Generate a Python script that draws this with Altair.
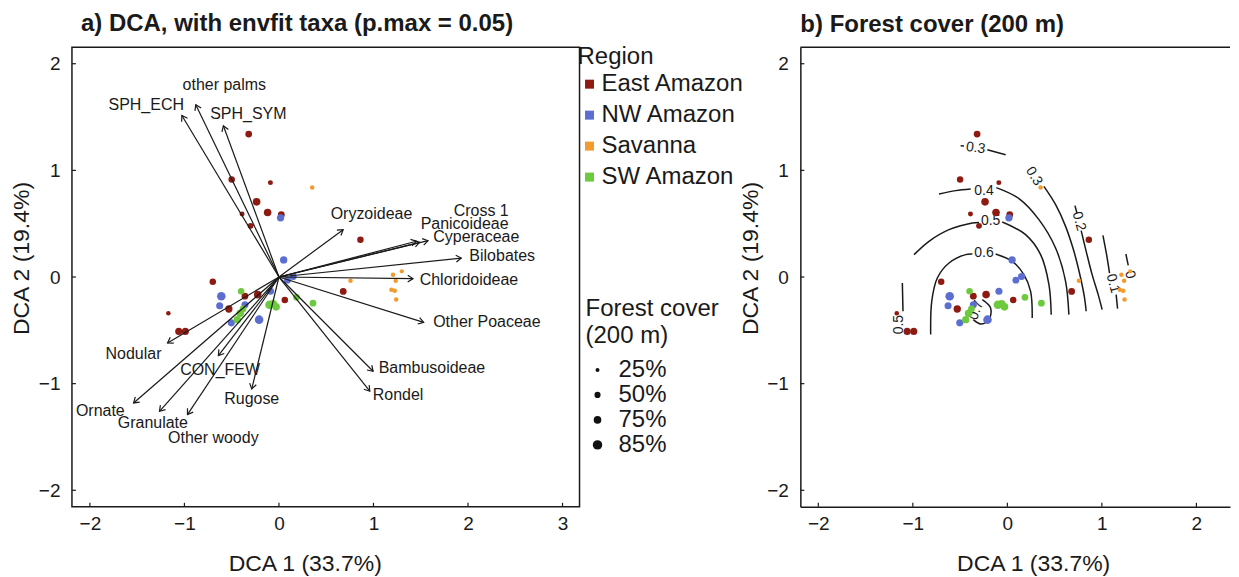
import math
import altair as alt
import pandas as pd

FONT = "Liberation Sans"

# ---------------- sites (DCA scores) ----------------
site_x = [-0.32, -0.50, -0.09, -0.236, -0.39, -0.12, 0.025, -0.30, 0.862, -0.70, 0.68, -0.36, -0.225, -0.53, 0.062, -1.17, -1.06, -0.99,
          0.017, 0.05, 0.15, 0.09, -0.089, -0.61, -0.627, -0.36, -0.504, -0.21,
          0.352, 0.757, 1.207, 1.30, 1.235, 1.19, 1.225, 1.24,
          -0.40, 0.186, 0.36, -0.10, -0.03, -0.06, -0.41, -0.44, -0.38]
site_y = [1.34, 0.915, 0.885, 0.705, 0.59, 0.605, 0.585, 0.48, 0.35, -0.045, -0.135, -0.18, -0.165, -0.30, -0.215, -0.34, -0.51, -0.51,
          0.555, 0.16, 0.005, -0.03, -0.134, -0.18, -0.27, -0.26, -0.43, -0.40,
          0.84, -0.035, 0.022, 0.053, -0.034, -0.12, -0.128, -0.21,
          -0.134, -0.19, -0.245, -0.26, -0.28, -0.25, -0.34, -0.40, -0.30]
site_region = (["East Amazon"] * 18 + ["NW Amazon"] * 10 + ["Savanna"] * 8 + ["SW Amazon"] * 9)
site_cover = [60, 55, 35, 75, 35, 75, 60, 45, 55, 55, 60, 60, 75, 70, 55, 30, 65, 65,
              70, 70, 65, 60, 65, 80, 65, 65, 65, 80,
              30, 30, 30, 28, 30, 30, 30, 30,
              55, 60, 60, 80, 75, 70, 75, 70, 60]

regions = ["East Amazon", "NW Amazon", "Savanna", "SW Amazon"]
region_colors = ["#8E1B12", "#5C6FD1", "#F29B2E", "#6DCA3F"]

cover_breaks = [25, 50, 75, 85]
cover_dot_area = [16, 38, 58, 90]

# ---------------- envfit arrows ----------------
taxa = ["SPH_ECH", "other palms", "SPH_SYM", "Oryzoideae", "Cross 1", "Panicoideae", "Cyperaceae", "Bilobates",
        "Chloridoideae", "Other Poaceae", "Bambusoideae", "Rondel", "Rugose", "CON_FEW", "Nodular", "Ornate",
        "Granulate", "Other woody"]
arrow_x = [-1.027, -0.88, -0.588, 0.679, 1.454, 1.489, 1.577, 1.929, 1.418, 1.531, 0.996, 0.961, -0.288, -0.641,
           -1.179, -1.538, -1.264, -0.968]
arrow_y = [1.515, 1.616, 1.419, 0.444, 0.335, 0.325, 0.341, 0.178, -0.015, -0.425, -0.884, -1.071, -1.05, -0.737,
           -0.618, -1.181, -1.259, -1.29]
label_x = [-1.404, -0.578, -0.324, 0.979, 2.14, 1.964, 2.088, 2.362, 2.01, 2.20, 1.619, 1.26, -0.288, -0.623,
           -1.539, -1.89, -1.334, -0.694]
label_y = [1.616, 1.797, 1.528, 0.594, 0.622, 0.497, 0.372, 0.20, -0.024, -0.425, -0.853, -1.102, -1.143, -0.868,
           -0.722, -1.252, -1.368, -1.509]

# ---------------- ordisurf contours (panel b) ----------------
contour_seg = (["07"] * 5 + ["06a"] * 6 + ["06b"] * 5 + ["05a"] * 5 + ["05b"] * 5 + ["04a"] * 3 + ["04b"] * 6 +
               ["03ta"] * 2 + ["03tb"] * 2 + ["03rb"] * 7 + ["02a"] * 2 + ["02b"] * 5 + ["01a"] * 3 + ["01b"] * 2 +
               ["00a"] * 2 + ["05la"] * 2)
contour_x = [-0.265, -0.177, -0.195, -0.282, -0.36,
             -0.811, -0.80, -0.741, -0.617, -0.441, -0.37,
             -0.124, 0.052, 0.175, 0.246, 0.263,
             -0.987, -0.829, -0.617, -0.371, -0.30,
             -0.054, 0.193, 0.352, 0.44, 0.464,
             -0.723, -0.547, -0.388,
             -0.117, 0.123, 0.334, 0.51, 0.616, 0.651,
             -0.494, -0.459,
             -0.212, -0.018,
             0.387, 0.511, 0.616, 0.704, 0.775, 0.817, 0.834,
             0.715, 0.736,
             0.781, 0.834, 0.897, 0.961, 1.003,
             1.011, 1.05, 1.081,
             1.151, 1.166,
             1.254, 1.279,
             -1.111, -1.104]
contour_y = [-0.212, -0.29, -0.40, -0.44, -0.40,
             -0.54, -0.228, -0.009, 0.131, 0.21, 0.215,
             0.216, 0.147, 0.022, -0.134, -0.384,
             0.21, 0.335, 0.444, 0.506, 0.512,
             0.516, 0.397, 0.21, -0.072, -0.353,
             0.778, 0.81, 0.825,
             0.838, 0.735, 0.538, 0.272, -0.04, -0.353,
             1.231, 1.228,
             1.194, 1.147,
             0.850, 0.678, 0.475, 0.241, -0.009, -0.197, -0.321,
             0.669, 0.60,
             0.435, 0.241, 0.022, -0.165, -0.306,
             0.391, 0.21, 0.037,
             -0.165, -0.296,
             0.216, 0.11,
             -0.056, -0.321]
clabel_text = ["0.7", "0.6", "0.5", "0.4", "0.3", "0.3", "0.2", "0.1", "0", "0.5"]
clabel_x = [-0.329, -0.247, -0.177, -0.247, -0.335, 0.281, 0.757, 1.116, 1.296, -1.146]
clabel_y = [-0.312, 0.225, 0.522, 0.81, 1.209, 0.944, 0.522, -0.062, 0.022, -0.446]
clabel_angle = [290, 0, 0, 0, 8, 58, 75, 75, 75, 270]

x_ticks = [-2, -1, 0, 1, 2, 3]
y_ticks = [-2, -1, 0, 1, 2]

# ---------------- geometry ----------------
H = 460
WA = 508
WB = 430
XMIN, XMAX_A = -2.19, 3.18
XMAX_B = XMIN + (XMAX_A - XMIN) * WB / WA
YMIN, YMAX = -2.155, 2.155
kx = WA / (XMAX_A - XMIN)
ky = H / (YMAX - YMIN)

sites = pd.DataFrame({"x": site_x, "y": site_y, "Region": site_region, "cover": site_cover})
arrows = pd.DataFrame({"taxon": taxa, "x0": 0.0, "y0": 0.0, "x": arrow_x, "y": arrow_y,
                       "lx": label_x, "ly": label_y})
arrows["angle"] = [(math.degrees(math.atan2(-yy * ky, xx * kx))) % 360 for xx, yy in zip(arrow_x, arrow_y)]
contours = pd.DataFrame({"seg": contour_seg, "x": contour_x, "y": contour_y})
contours["i"] = range(len(contours))
clabels = pd.DataFrame({"t": clabel_text, "x": clabel_x, "y": clabel_y, "a": clabel_angle})
one_row = pd.DataFrame({"k": [0]})

INK = "#1a1a1a"

yscale = alt.Scale(domain=[YMIN, YMAX], nice=False, zero=False)
color_scale = alt.Scale(domain=regions, range=region_colors)
size_scale = alt.Scale(domain=cover_breaks, range=cover_dot_area, clamp=True, zero=False)


def xscale(xmax):
    return alt.Scale(domain=[XMIN, xmax], nice=False, zero=False)


def x_axis(show_domain):
    return alt.Axis(values=x_ticks, ticks=False, grid=False, domain=show_domain, domainColor=INK,
                    domainWidth=1.5, labelPadding=8, labelFontSize=19, labelColor=INK, labelFont=FONT,
                    title="DCA 1 (33.7%)", titleFont=FONT, titleFontSize=23, titleFontWeight="normal",
                    titleColor=INK, titleX=233, titleY=64, titleBaseline="alphabetic", titleAlign="center")


def y_axis(show_domain):
    return alt.Axis(values=y_ticks, ticks=False, grid=False, domain=show_domain, domainColor=INK,
                    domainWidth=1.5, labelPadding=12, labelFontSize=19, labelColor=INK, labelFont=FONT,
                    title="DCA 2 (19.4%)", titleFont=FONT, titleFontSize=23, titleFontWeight="normal",
                    titleColor=INK, titleX=-43, titleY=211, titleAngle=270, titleBaseline="alphabetic",
                    titleAlign="center")


def panel_encodings(xmax, show_domain):
    xa = x_axis(show_domain)
    ya = y_axis(show_domain)

    def X(field):
        return alt.X(field, scale=xscale(xmax), axis=xa)

    def Y(field):
        return alt.Y(field, scale=yscale, axis=ya)
    return X, Y


def point_layer(X, Y, with_legend):
    if with_legend:
        cleg = alt.Legend(orient="none", legendX=506, legendY=-2, title="Region", symbolType="square",
                          symbolSize=81, symbolStrokeWidth=0, labelFontSize=24, titleFontSize=24,
                          titleFontWeight="normal", labelFont=FONT, titleFont=FONT, labelColor=INK,
                          titleColor=INK, rowPadding=7, titlePadding=3, labelOffset=0, padding=0)
        sleg = alt.Legend(orient="none", legendX=514, legendY=250, title=["Forest cover", "(200 m)"],
                          values=cover_breaks, labelExpr="datum.label + '%'", symbolFillColor="#111111",
                          symbolStrokeWidth=0, symbolType="circle", labelFontSize=24, titleFontSize=24,
                          titleFontWeight="normal", titleLineHeight=27, labelFont=FONT, titleFont=FONT,
                          labelColor=INK, titleColor=INK, rowPadding=1, titlePadding=10, labelOffset=9,
                          padding=0)
    else:
        cleg = None
        sleg = None
    return alt.Chart(sites).mark_circle(opacity=1).encode(
        x=X("x:Q"), y=Y("y:Q"),
        color=alt.Color("Region:N", scale=color_scale, legend=cleg),
        size=alt.Size("cover:Q", scale=size_scale, legend=sleg),
    )


def tick_layers(X, Y, xmax):
    xt = alt.Chart(pd.DataFrame({"v": x_ticks})).transform_filter(f"datum.v <= {xmax}").mark_rule(
        color=INK, strokeWidth=1.2).encode(x=X("v:Q"), y=alt.value(H), y2=alt.value(H - 4))
    yt = alt.Chart(pd.DataFrame({"v": y_ticks})).mark_rule(color=INK, strokeWidth=1.2).encode(
        y=Y("v:Q"), x=alt.value(0), x2=alt.value(4))
    return xt, yt


# ---------------- panel a ----------------
XA, YA = panel_encodings(XMAX_A, False)
xt_a, yt_a = tick_layers(XA, YA, XMAX_A)
pts_a = point_layer(XA, YA, True)
shafts = alt.Chart(arrows).mark_rule(color=INK, strokeWidth=1.2).encode(
    x=XA("x0:Q"), y=YA("y0:Q"), x2="x:Q", y2="y:Q")
heads = alt.Chart(arrows).mark_point(shape="M-1,-0.65L0,0L-1,0.65", filled=False, size=110, color=INK,
                                     strokeWidth=1.2, opacity=1).encode(
    x=XA("x:Q"), y=YA("y:Q"), angle=alt.Angle("angle:Q", scale=None))
labels = alt.Chart(arrows).mark_text(font=FONT, fontSize=16, color=INK, align="center",
                                     baseline="middle").encode(
    x=XA("lx:Q"), y=YA("ly:Q"), text="taxon:N")

panel_a = alt.layer(xt_a, yt_a, pts_a, shafts, heads, labels).properties(
    width=WA, height=H,
    view=alt.ViewBackground(stroke=INK, strokeWidth=1.5, fill="white"),
    title=alt.TitleParams("a) DCA, with envfit taxa (p.max = 0.05)", anchor="start", frame="group",
                          fontSize=24, fontWeight="bold", font=FONT, color=INK, offset=-10, dx=9,
                          baseline="alphabetic"))

# ---------------- panel b ----------------
XB, YB = panel_encodings(XMAX_B, True)
top_border = alt.Chart(one_row).mark_rule(color=INK, strokeWidth=1.5).encode(
    x=alt.value(0), x2=alt.value(WB), y=alt.value(0))
xt_b, yt_b = tick_layers(XB, YB, XMAX_B)
lines_b = alt.Chart(contours).mark_line(color=INK, strokeWidth=1.5, interpolate="catmull-rom").encode(
    x=XB("x:Q"), y=YB("y:Q"), detail="seg:N", order="i:Q")
clab_b = alt.Chart(clabels).mark_text(font=FONT, fontSize=14, color=INK, align="center",
                                      baseline="middle").encode(
    x=XB("x:Q"), y=YB("y:Q"), text="t:N", angle=alt.Angle("a:Q", scale=None))
pts_b = point_layer(XB, YB, False)

panel_b = alt.layer(xt_b, yt_b, lines_b, clab_b, pts_b, top_border).properties(
    width=WB, height=H,
    view=alt.ViewBackground(stroke=None, fill="white"),
    title=alt.TitleParams("b) Forest cover (200 m)", anchor="start", frame="group", fontSize=24,
                          fontWeight="bold", font=FONT, color=INK, offset=-10, dx=0, baseline="alphabetic"))

chart = alt.hconcat(panel_a, panel_b, spacing=221, bounds="flush").resolve_scale(
    color="independent", size="independent").properties(
    background="white", padding={"left": 2, "top": 3, "right": 0, "bottom": 0})

chart.save("out.html", embed_options={"renderer": "svg", "actions": False})
